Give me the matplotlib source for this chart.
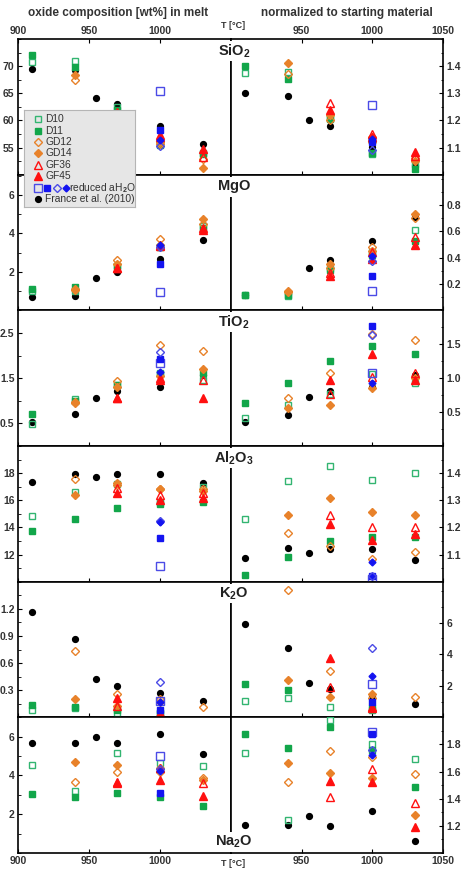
import numpy as np
import matplotlib
matplotlib.use("Agg")
import matplotlib.pyplot as plt
from matplotlib.ticker import AutoMinorLocator

plt.rcParams['font.family'] = ['Liberation Sans', 'DejaVu Sans']
plt.rcParams['font.weight'] = 'bold'
plt.rcParams['mathtext.fontset'] = 'custom'
plt.rcParams['mathtext.rm'] = 'Liberation Sans'
plt.rcParams['mathtext.bf'] = 'Liberation Sans:bold'

nan = np.nan

# run temperatures (deg C)
temps = [910, 940, 970, 1000, 1030]
france_temps = [910, 940, 955, 970, 1000, 1030]
reduced_temp = 1000
samples = ['D10', 'D11', 'GD12', 'GD14', 'GF36', 'GF45']
# reduced aH2O runs: open square, filled square, open diamond, filled diamond

# ---- SiO2 ----
sio2_melt = {'D10': [70.7, 70.9, 62.4, 55.6, 54.0],
             'D11': [72.0, 69.9, 62.0, 55.5, 53.8],
             'GD12': [nan, 67.4, 58.6, 55.7, 52.9],
             'GD14': [nan, 68.3, 59.3, 56.0, 51.3],
             'GF36': [nan, nan, 61.2, 56.9, 53.2],
             'GF45': [nan, nan, 61.5, 57.3, 54.7]}
sio2_france = [69.5, 69.2, 64.2, 63.0, 59.0, 55.6]
sio2_reduced = [65.4, 58.2, 55.3, 56.4]
sio2_norm = {'D10': [1.375, 1.38, 1.21, 1.075, 1.04],
             'D11': [1.40, 1.353, 1.205, 1.08, 1.02],
             'GD12': [nan, 1.37, 1.20, 1.12, 1.06],
             'GD14': [nan, 1.41, 1.22, 1.14, 1.05],
             'GF36': [nan, nan, 1.263, 1.15, 1.07],
             'GF45': [nan, nan, 1.238, 1.14, 1.085]}
sio2_france_n = [1.30, 1.29, 1.20, 1.178, 1.103, 1.036]
sio2_reduced_n = [1.258, 1.12, 1.09, 1.131]

# ---- MgO ----
mgo_melt = {'D10': [1.0, 1.0, 2.3, 3.3, 4.4],
            'D11': [1.1, 1.2, 2.3, 3.3, 4.3],
            'GD12': [nan, 1.1, 2.61, 3.70, 4.5],
            'GD14': [nan, 1.05, 2.4, 3.4, 4.73],
            'GF36': [nan, nan, 2.2, 3.4, 4.3],
            'GF45': [nan, nan, 2.2, 3.36, 4.2]}
mgo_france = [0.7, 0.75, 1.7, 2.0, 2.68, 3.66]
mgo_reduced = [0.96, 2.39, 3.3, 3.4]
mgo_norm = {'D10': [0.12, 0.11, 0.32, 0.44, 0.61],
            'D11': [0.12, 0.12, 0.31, 0.42, 0.53],
            'GD12': [nan, 0.14, 0.32, 0.48, 0.70],
            'GD14': [nan, 0.15, 0.35, 0.45, 0.73],
            'GF36': [nan, nan, 0.28, 0.44, 0.553],
            'GF45': [nan, nan, 0.26, 0.39, 0.496]}
mgo_france_n = [0.12, 0.126, 0.32, 0.385, 0.526, 0.706]
mgo_reduced_n = [0.146, 0.26, 0.378, 0.41]

# ---- TiO2 ----
tio2_melt = {'D10': [0.48, 1.04, 1.35, 1.61, 1.46],
             'D11': [0.705, 1.0, 1.35, 1.6, 1.62],
             'GD12': [nan, 0.97, 1.43, 2.23, 2.1],
             'GD14': [nan, 0.96, 1.3, 1.55, 1.7],
             'GF36': [nan, nan, 1.07, 1.5, 1.46],
             'GF45': [nan, nan, 1.07, 1.46, 1.06]}
tio2_france = [0.53, 0.705, 1.07, 1.21, 1.30, 1.56]
tio2_reduced = [1.83, 1.92, 2.07, 1.63]
tio2_norm = {'D10': [0.41, 0.61, 0.76, 1.06, 0.93],
             'D11': [0.64, 0.93, 1.26, 1.47, 1.35],
             'GD12': [nan, 0.71, 1.07, 1.65, 1.57],
             'GD14': [nan, 0.56, 0.61, 0.85, 1.0],
             'GF36': [nan, nan, 0.76, 1.02, 1.07],
             'GF45': [nan, nan, 0.98, 1.35, 0.98]}
tio2_france_n = [0.35, 0.46, 0.72, 0.81, 0.875, 1.04]
tio2_reduced_n = [1.08, 1.77, 1.63, 0.93]

# ---- Al2O3 ----
al2o3_melt = {'D10': [14.85, 16.6, 17.2, 15.9, 17.0],
              'D11': [13.76, 14.64, 15.44, 15.7, 15.88],
              'GD12': [nan, 17.6, 17.1, 16.8, 16.8],
              'GD14': [nan, 16.37, 17.24, 16.8, 16.7],
              'GF36': [nan, nan, 16.87, 16.37, 16.5],
              'GF45': [nan, nan, 16.5, 16.0, 16.2]}
al2o3_france = [17.36, 17.93, 17.68, 17.9, 17.9, 17.24]
al2o3_reduced = [11.19, 13.24, 14.44, 14.4]
al2o3_norm = {'D10': [1.232, 1.372, 1.425, 1.374, 1.399],
              'D11': [1.026, 1.09, 1.151, 1.163, 1.165],
              'GD12': [nan, 1.181, 1.13, 1.085, 1.11],
              'GD14': [nan, 1.247, 1.307, 1.257, 1.245],
              'GF36': [nan, nan, 1.245, 1.2, 1.2],
              'GF45': [nan, nan, 1.212, 1.154, 1.175]}
al2o3_france_n = [1.088, 1.123, 1.107, 1.12, 1.119, 1.079]
al2o3_reduced_n = [1.01, 1.02, 1.02, 1.073]

# ---- K2O ----
k2o_melt = {'D10': [0.085, 0.10, 0.05, 0.05, nan],
            'D11': [0.14, 0.115, 0.085, 0.05, nan],
            'GD12': [nan, 0.735, 0.26, 0.20, 0.11],
            'GD14': [nan, 0.204, 0.13, 0.17, nan],
            'GF36': [nan, nan, 0.13, 0.05, nan],
            'GF45': [nan, nan, 0.215, 0.03, nan]}
k2o_france = [1.17, 0.87, 0.42, 0.35, 0.27, 0.18]
k2o_reduced = [0.18, 0.085, 0.39, 0.17]
k2o_norm = {'D10': [1.04, 1.25, 0.64, 0.47, nan],
            'D11': [2.13, 1.74, nan, 0.6, nan],
            'GD12': [nan, 8.1, 2.91, 1.2, 1.28],
            'GD14': [nan, 2.38, 1.32, 1.49, nan],
            'GF36': [nan, nan, 1.9, 0.68, nan],
            'GF45': [nan, nan, 3.77, 0.6, nan]}
k2o_france_n = [5.9, 4.4, 2.17, 1.79, 1.38, 0.87]
k2o_reduced_n = [2.1, 0.96, 4.4, 2.6]

# ---- Na2O ----
na2o_melt = {'D10': [4.52, 3.19, 5.18, 4.62, 4.48],
             'D11': [3.05, 2.88, 3.1, 2.88, 2.45],
             'GD12': [nan, 3.65, 4.17, 4.2, 3.88],
             'GD14': [nan, 4.71, 4.53, 4.4, 3.75],
             'GF36': [nan, nan, 3.6, 4.4, 3.62],
             'GF45': [nan, nan, 3.67, 3.76, 2.93]}
na2o_france = [5.66, 5.66, 5.98, 5.66, 6.16, 5.12]
na2o_reduced = [5.0, 3.1, 4.35, 4.22]
na2o_norm = {'D10': [1.737, 1.24, 1.98, 1.8, 1.69],
             'D11': [1.88, 1.776, 1.93, 1.76, 1.49],
             'GD12': [nan, 1.52, 1.75, 1.71, 1.585],
             'GD14': [nan, 1.665, 1.59, 1.55, 1.28],
             'GF36': [nan, nan, 1.41, 1.62, 1.37],
             'GF45': [nan, nan, 1.53, 1.52, 1.19]}
na2o_france_n = [1.21, 1.21, 1.27, 1.2, 1.31, 1.087]
na2o_reduced_n = [1.89, 1.88, 1.76, 1.72]

# marker styles
GREEN_O = '#33b571'
GREEN_F = '#12a64a'
ORANGE = '#e8822a'
RED = '#ff1010'
BLUE_O = '#4b4be6'
BLUE_F = '#1414f0'
TXT = '#333333'

styles = {'D10': dict(marker='s', mfc='none', mec=GREEN_O, ms=5, mew=1.0),
          'D11': dict(marker='s', mfc=GREEN_F, mec=GREEN_F, ms=5, mew=1.0),
          'GD12': dict(marker='D', mfc='none', mec=ORANGE, ms=4.5, mew=1.0),
          'GD14': dict(marker='D', mfc=ORANGE, mec=ORANGE, ms=3.8, mew=1.0),
          'GF36': dict(marker='^', mfc='none', mec=RED, ms=5.5, mew=1.0),
          'GF45': dict(marker='^', mfc=RED, mec=RED, ms=5.5, mew=1.0)}
reduced_styles = [dict(marker='s', mfc='none', mec=BLUE_O, ms=5.5, mew=1.0),
                  dict(marker='s', mfc=BLUE_F, mec=BLUE_F, ms=5, mew=1.0),
                  dict(marker='D', mfc='none', mec=BLUE_O, ms=4.5, mew=1.0),
                  dict(marker='D', mfc=BLUE_F, mec=BLUE_F, ms=3.5, mew=1.0)]
france_style = dict(marker='o', mfc='black', mec='black', ms=4.2)

panels = [
    (r'$\mathbf{SiO_2}$', sio2_melt, sio2_france, sio2_reduced, sio2_norm, sio2_france_n, sio2_reduced_n,
     (50, 75), [55, 60, 65, 70], (1.0, 1.5), [1.1, 1.2, 1.3, 1.4], 'top'),
    (r'$\mathbf{MgO}$', mgo_melt, mgo_france, mgo_reduced, mgo_norm, mgo_france_n, mgo_reduced_n,
     (0, 7.05), [2, 4, 6], (0, 1.03), [0.2, 0.4, 0.6, 0.8], 'top'),
    (r'$\mathbf{TiO_2}$', tio2_melt, tio2_france, tio2_reduced, tio2_norm, tio2_france_n, tio2_reduced_n,
     (0, 3), [0.5, 1.5, 2.5], (0, 2), [0.5, 1.0, 1.5], 'top'),
    (r'$\mathbf{Al_2O_3}$', al2o3_melt, al2o3_france, al2o3_reduced, al2o3_norm, al2o3_france_n, al2o3_reduced_n,
     (10, 20), [12, 14, 16, 18], (1.0, 1.5), [1.1, 1.2, 1.3, 1.4], 'top'),
    (r'$\mathbf{K_2O}$', k2o_melt, k2o_france, k2o_reduced, k2o_norm, k2o_france_n, k2o_reduced_n,
     (0, 1.5), [0.3, 0.6, 0.9, 1.2], (0, 8.6), [2, 4, 6], 'top'),
    (r'$\mathbf{Na_2O}$', na2o_melt, na2o_france, na2o_reduced, na2o_norm, na2o_france_n, na2o_reduced_n,
     (0, 7), [2, 4, 6], (1.0, 2.0), [1.2, 1.4, 1.6, 1.8], 'bottom'),
]

W, H = 465, 875
fig = plt.figure(figsize=(W / 100, H / 100), dpi=100)

x_left, x_mid, x_right = 18, 231, 443
y_top, y_bot = 39, 853
row_h = (y_bot - y_top) / 6


def draw_series(ax, melt, france, reduced):
    for s in samples:
        ax.plot(temps, melt[s], linestyle='none', **styles[s], zorder=3)
    for v, st in zip(reduced, reduced_styles):
        ax.plot([reduced_temp], [v], linestyle='none', **st, zorder=4)
    ax.plot(france_temps, france, linestyle='none', **france_style, zorder=2)


for i, (name, melt, fr, red, norm, fr_n, red_n, ylimL, ticksL, ylimR, ticksR, lab_pos) in enumerate(panels):
    y0 = 1 - (y_top + (i + 1) * row_h) / H
    axL = fig.add_axes([x_left / W, y0, (x_mid - x_left) / W, row_h / H])
    axR = fig.add_axes([x_mid / W, y0, (x_right - x_mid) / W, row_h / H])

    draw_series(axL, melt, fr, red)
    draw_series(axR, norm, fr_n, red_n)

    for ax in (axL, axR):
        ax.set_xlim(900, 1050)
        for sp in ax.spines.values():
            sp.set_linewidth(1.2)
        ax.tick_params(direction='in', length=3, width=0.8, labelsize=7.5,
                       labelcolor=TXT, pad=2.5)
        ax.tick_params(which='minor', direction='in', length=1.8, width=0.6)
        ax.yaxis.set_minor_locator(AutoMinorLocator(2))
        ax.tick_params(axis='x', top=(i == 0), labeltop=(i == 0),
                       bottom=True, labelbottom=(i == 5))

    axL.set_xticks([900, 950, 1000])
    axR.set_xticks([950, 1000, 1050])
    axL.set_ylim(*ylimL)
    axL.set_yticks(ticksL)
    axR.set_ylim(*ylimR)
    axR.set_yticks(ticksR)
    axR.yaxis.tick_right()
    axR.tick_params(axis='y', which='both', left=False, right=True)

    # panel label sitting on the divider
    cx = (x_mid + 3) / W
    if lab_pos == 'top':
        cy = 1 - (y_top + i * row_h + 12) / H
    else:
        cy = 1 - (y_top + (i + 1) * row_h - 11) / H
    fig.text(cx, cy, name, ha='center', va='center', fontsize=10.5, color='#222222',
             bbox=dict(facecolor='white', edgecolor='none', pad=1.0), zorder=20)

# titles and axis labels
fig.text(118 / W, 1 - 13 / H, 'oxide composition [wt%] in melt', ha='center', va='center',
         fontsize=8.5, color=TXT)
fig.text(347 / W, 1 - 13 / H, 'normalized to starting material', ha='center', va='center',
         fontsize=8.5, color=TXT)
fig.text(233 / W, 1 - 25 / H, 'T [°C]', ha='center', va='center', fontsize=6.5, color=TXT)
fig.text(233 / W, 1 - 864 / H, 'T [°C]', ha='center', va='center', fontsize=6.5, color=TXT)

# legend box (drawn by hand: the reduced-aH2O entry carries four symbols)
lx0, ly0, lw, lh = 24, 110, 111, 97
leg = fig.add_axes([lx0 / W, 1 - (ly0 + lh) / H, lw / W, lh / H], zorder=10)
leg.set_xlim(0, lw)
leg.set_ylim(lh, 0)
leg.set_facecolor('#e6e6e6')
leg.set_xticks([])
leg.set_yticks([])
for sp in leg.spines.values():
    sp.set_color('#b5b5b5')
    sp.set_linewidth(0.8)
rows = [9, 20.5, 31.8, 43, 54.6, 66, 77.6, 89.2]
for s, yy in zip(samples, rows):
    leg.plot([13.5], [yy], linestyle='none', **styles[s])
    leg.text(21, yy, s, va='center', ha='left', fontsize=7.4, fontweight='normal', color=TXT)
for xx, st in zip([13.5, 23, 32.5, 41.5], reduced_styles):
    leg.plot([xx], [rows[6]], linestyle='none', **st)
leg.text(45, rows[6], r'reduced aH$_\mathrm{2}$O', va='center', ha='left', fontsize=7.4,
         fontweight='normal', color=TXT)
leg.plot([13.5], [rows[7]], linestyle='none', **france_style)
leg.text(21, rows[7], 'France et al. (2010)', va='center', ha='left', fontsize=7.4,
         fontweight='normal', color=TXT)

fig.savefig('out.png', dpi=100)
